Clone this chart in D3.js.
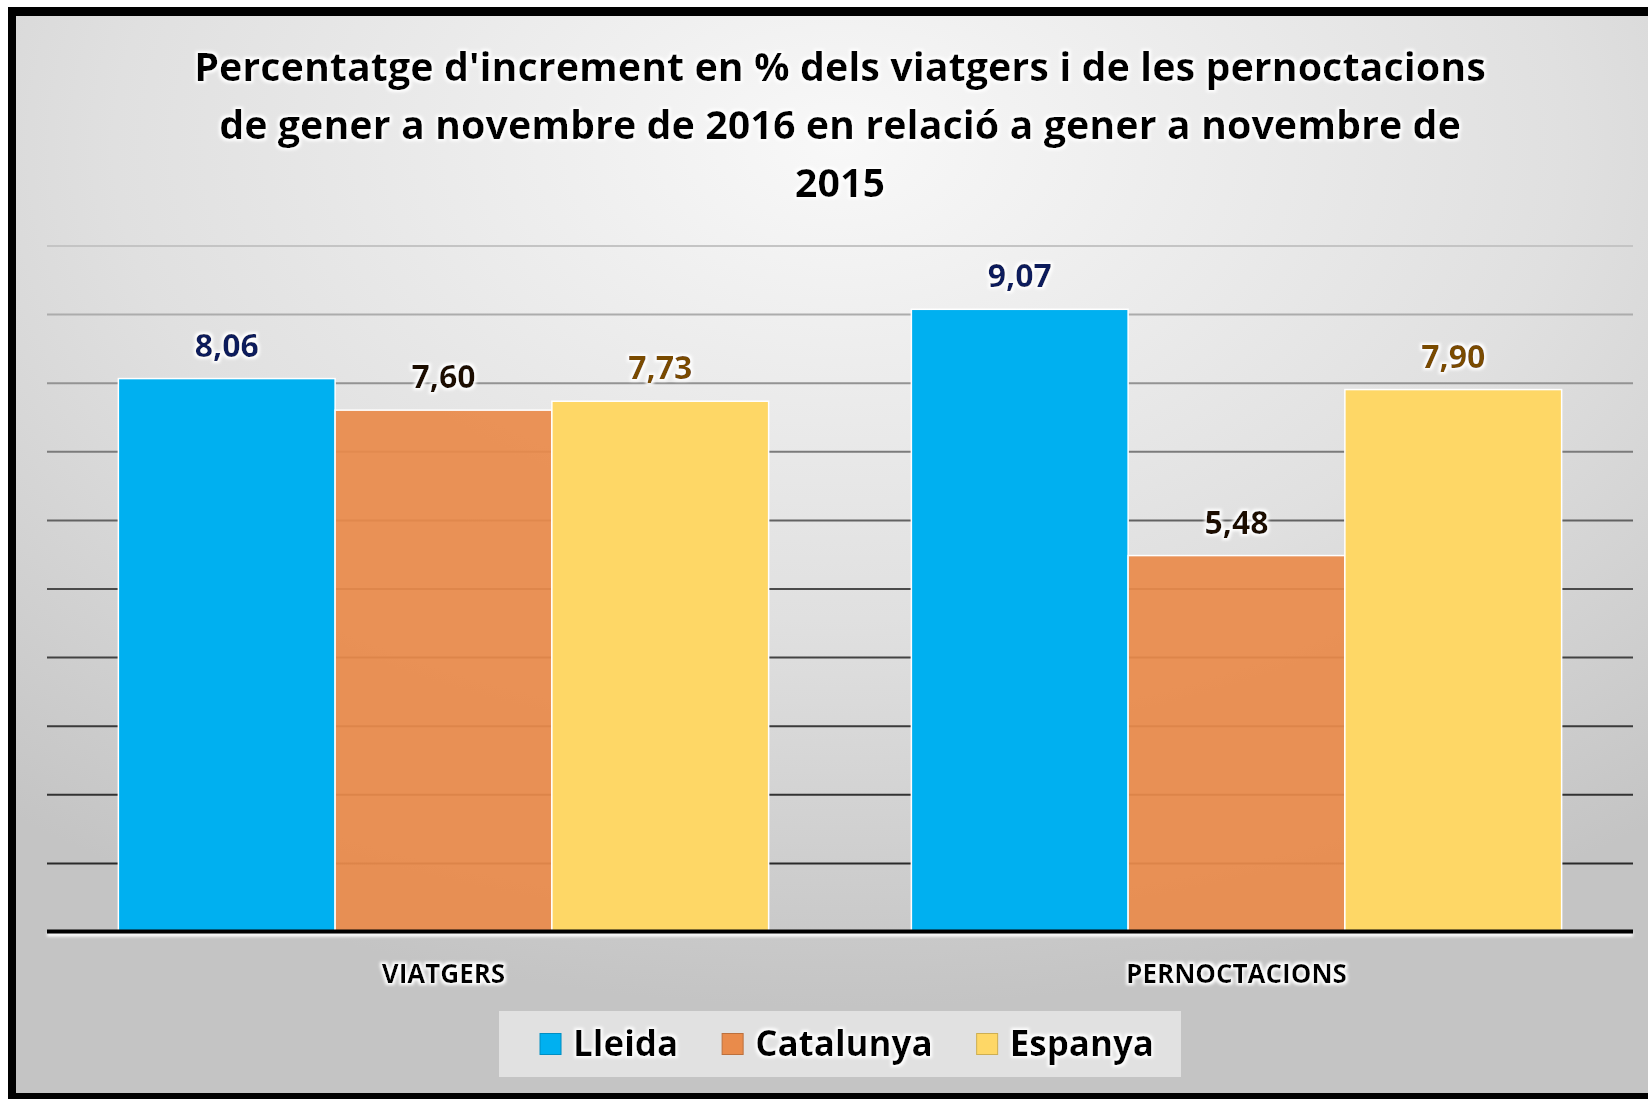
<!DOCTYPE html>
<html lang="ca">
<head>
<meta charset="UTF-8">
<title>Percentatge d'increment</title>
<script src="https://d3js.org/d3.v7.min.js"></script>
<style>
  body { margin: 0; background: #fff; }
  svg text { font-family: "Open Sans", "DejaVu Sans", sans-serif; font-weight: 700; }
</style>
</head>
<body>
<svg id="chart"></svg>
<script>
// data
const categories = ["VIATGERS", "PERNOCTACIONS"];
const seriesNames = ["Lleida", "Catalunya", "Espanya"];
const lleida = [8.06, 9.07];
const catalunya = [7.60, 5.48];
const espanya = [7.73, 7.90];
const yTicks = [1, 2, 3, 4, 5, 6, 7, 8, 9, 10];
const titleLines = [
    "Percentatge d'increment en % dels viatgers i de les pernoctacions",
    "de gener a novembre de 2016 en relació a gener a novembre de",
    "2015"
];

const colors = ["#00b0f0", "#e98b4b", "#fed766"];
const labelColors = ["#0d1f5c", "#1c0800", "#7a4c00"];

const width = 1648, height = 1099;
const plot = {left: 47, right: 1633, top: 245.5, bottom: 931.5};

const svg = d3.select("#chart").attr("width", width).attr("height", height);

const defs = svg.append("defs");
const bg = defs.append("radialGradient").attr("id", "bg")
    .attr("cx", "50%").attr("cy", "12%").attr("r", "80%")
    .attr("fx", "50%").attr("fy", "12%");
bg.append("stop").attr("offset", "0%").attr("stop-color", "#f8f8f8");
bg.append("stop").attr("offset", "55%").attr("stop-color", "#e0e0e0");
bg.append("stop").attr("offset", "100%").attr("stop-color", "#c4c4c4");

const glow = defs.append("filter").attr("id", "glow")
    .attr("x", "-20%").attr("y", "-40%").attr("width", "140%").attr("height", "180%");
glow.append("feMorphology").attr("in", "SourceAlpha").attr("operator", "dilate").attr("radius", 1.5).attr("result", "d");
glow.append("feGaussianBlur").attr("in", "d").attr("stdDeviation", 1.6).attr("result", "b");
glow.append("feFlood").attr("flood-color", "#ffffff");
glow.append("feComposite").attr("in2", "b").attr("operator", "in").attr("result", "g");
const gm = glow.append("feMerge");
gm.append("feMergeNode").attr("in", "g");
gm.append("feMergeNode").attr("in", "SourceGraphic");

const soft = defs.append("filter").attr("id", "soft")
    .attr("filterUnits", "userSpaceOnUse")
    .attr("x", 0).attr("y", 0).attr("width", width).attr("height", height);
soft.append("feGaussianBlur").attr("stdDeviation", 1.5);

// frame and background
svg.append("rect").attr("x", 8).attr("y", 7).attr("width", width).attr("height", height).attr("fill", "#000");
svg.append("rect").attr("x", 16).attr("y", 16).attr("width", width).attr("height", 1077).attr("fill", "url(#bg)");

// title
svg.append("g").attr("filter", "url(#glow)")
    .selectAll("text")
    .data(titleLines)
    .join("text")
    .attr("x", (plot.left + plot.right) / 2)
    .attr("y", (d, i) => 81 + i * 58)
    .attr("text-anchor", "middle")
    .attr("font-size", 39.5)
    .attr("fill", "#000")
    .text(d => d);

// scales
const x0 = d3.scaleBand().domain(categories).range([plot.left, plot.right])
    .paddingInner(0.18).paddingOuter(0.09);
const x1 = d3.scaleBand().domain(seriesNames).range([0, x0.bandwidth()]);
const y = d3.scaleLinear().domain([0, 10]).range([plot.bottom, plot.top]);

const gridColor = d3.scaleLinear().domain([1, 5, 10]).range(["#2a2a2a", "#4a4a4a", "#c4c4c4"]);

// gridlines
const grid = svg.append("g")
    .attr("transform", `translate(${plot.left},0)`)
    .call(d3.axisLeft(y).tickValues(yTicks).tickSize(-(plot.right - plot.left)).tickFormat(""));
grid.select(".domain").remove();
grid.selectAll(".tick line")
    .attr("stroke", d => gridColor(d))
    .attr("stroke-width", 2);

// bars
const rows = categories.map((c, i) => ({
    category: c,
    values: [lleida[i], catalunya[i], espanya[i]]
}));

const fmt = v => d3.format(".2f")(v).replace(".", ",");

const groups = svg.append("g").selectAll("g")
    .data(rows)
    .join("g")
    .attr("transform", d => `translate(${x0(d.category)},0)`);

groups.selectAll("rect")
    .data(d => d.values.map((v, i) => ({name: seriesNames[i], value: v, i})))
    .join("rect")
    .attr("x", d => x1(d.name))
    .attr("y", d => y(d.value))
    .attr("width", x1.bandwidth())
    .attr("height", d => y(0) - y(d.value))
    .attr("fill", d => colors[d.i])
    .attr("fill-opacity", d => d.i === 1 ? 0.93 : 1)
    .attr("stroke", "#ffffff")
    .attr("stroke-width", 1.5);

groups.append("g").attr("filter", "url(#glow)")
    .selectAll("text")
    .data(d => d.values.map((v, i) => ({name: seriesNames[i], value: v, i})))
    .join("text")
    .attr("x", d => x1(d.name) + x1.bandwidth() / 2)
    .attr("y", d => y(d.value) - 22)
    .attr("text-anchor", "middle")
    .attr("font-size", 32)
    .attr("fill", d => labelColors[d.i])
    .text(d => fmt(d.value));

// baseline with a soft white edge
svg.append("line")
    .attr("x1", plot.left).attr("x2", plot.right)
    .attr("y1", y(0) + 3).attr("y2", y(0) + 3)
    .attr("stroke", "#fff").attr("stroke-width", 4)
    .attr("filter", "url(#soft)");
svg.append("line")
    .attr("x1", plot.left).attr("x2", plot.right)
    .attr("y1", y(0)).attr("y2", y(0))
    .attr("stroke", "#000").attr("stroke-width", 4);

// category axis labels
svg.append("g").attr("filter", "url(#glow)")
    .selectAll("text")
    .data(categories)
    .join("text")
    .attr("x", d => x0(d) + x0.bandwidth() / 2)
    .attr("y", 983)
    .attr("text-anchor", "middle")
    .attr("font-size", 26)
    .attr("fill", "#000")
    .text(d => d);

// legend
const legendBox = {x: 499, y: 1011, w: 682, h: 66};
svg.append("rect")
    .attr("x", legendBox.x).attr("y", legendBox.y)
    .attr("width", legendBox.w).attr("height", legendBox.h)
    .attr("fill", "#e6e6e6").attr("fill-opacity", 0.85);

const legend = svg.append("g");
const items = legend.selectAll("g").data(seriesNames).join("g");
const sq = 21, gapText = 12, gapItem = 44;
items.append("rect")
    .attr("width", sq).attr("height", sq)
    .attr("y", -sq / 2)
    .attr("fill", (d, i) => colors[i])
    .attr("stroke", (d, i) => d3.color(colors[i]).darker(0.6))
    .attr("stroke-width", 1);
items.append("text")
    .attr("x", sq + gapText)
    .attr("y", 12)
    .attr("font-size", 35)
    .attr("fill", "#000")
    .attr("filter", "url(#glow)")
    .text(d => d);

const widths = [];
items.each(function () {
    const w = sq + gapText + d3.select(this).select("text").node().getComputedTextLength();
    widths.push(w);
});
const total = d3.sum(widths) + gapItem * (widths.length - 1);
let cx = legendBox.x + (legendBox.w - total) / 2 + 7;
items.attr("transform", (d, i) => {
    const t = `translate(${cx},${legendBox.y + legendBox.h / 2})`;
    cx += widths[i] + gapItem;
    return t;
});
</script>
</body>
</html>
